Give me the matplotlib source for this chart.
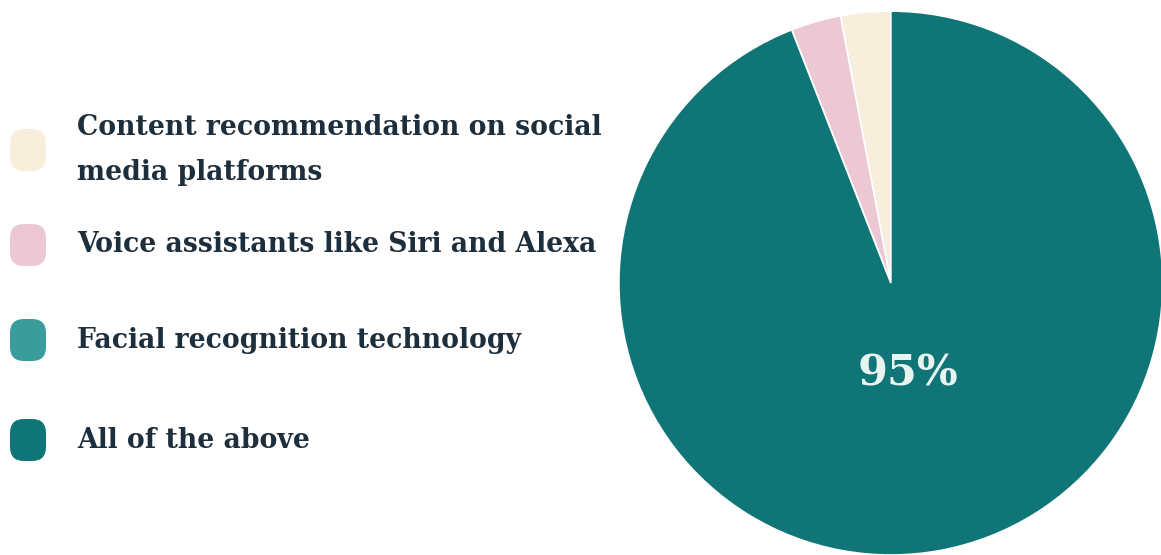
import matplotlib.pyplot as plt
from matplotlib.patches import FancyBboxPatch

# survey answers
labels = ["Content recommendation on social\nmedia platforms",
          "Voice assistants like Siri and Alexa",
          "Facial recognition technology",
          "All of the above"]
shares = [3, 3, 0, 95]
colors = ["#f7eedc", "#ebc8d3", "#3a9d9b", "#0f7576"]

TEXT_COLOR = "#1d2e3c"
FONT = "DejaVu Serif"

fig = plt.figure(figsize=(11.61, 5.55), dpi=100)
fig.patch.set_facecolor("white")

# pie on the right, starts at 12 o'clock and runs counter-clockwise
ax = fig.add_axes([0.533, 0.0, 0.4686, 0.98])
wedges, _, autotexts = ax.pie(
    shares, colors=colors, startangle=90, counterclock=True,
    autopct=lambda p: "95%" if p > 50 else "",
    pctdistance=0.34,
    wedgeprops=dict(edgecolor="white", linewidth=1.2),
    textprops=dict(color="#e9f4f1", fontsize=31, fontweight="bold", family=FONT),
)
ax.set_xlim(-1.0, 1.0)
ax.set_ylim(-1.0, 1.0)
ax.set_aspect("equal")
ax.axis("off")

# legend drawn by hand so the rounded swatches match
legend_y = [150, 245, 340, 440]   # pixel rows of each entry centre
W, H = 1161, 555
for label, color, y in zip(labels, colors, legend_y):
    box = FancyBboxPatch((10 / W, (H - y - 21) / H), 36 / W, 42 / H,
                         boxstyle="round,pad=0,rounding_size=0.012",
                         transform=fig.transFigure, facecolor=color,
                         edgecolor="none", mutation_aspect=W / H)
    fig.patches.append(box)
    fig.text(77 / W, (H - y) / H, label, transform=fig.transFigure,
             ha="left", va="center", color=TEXT_COLOR, fontsize=19.2,
             fontweight="bold", family=FONT, linespacing=1.85)

fig.savefig("out.png", dpi=100, facecolor="white")
